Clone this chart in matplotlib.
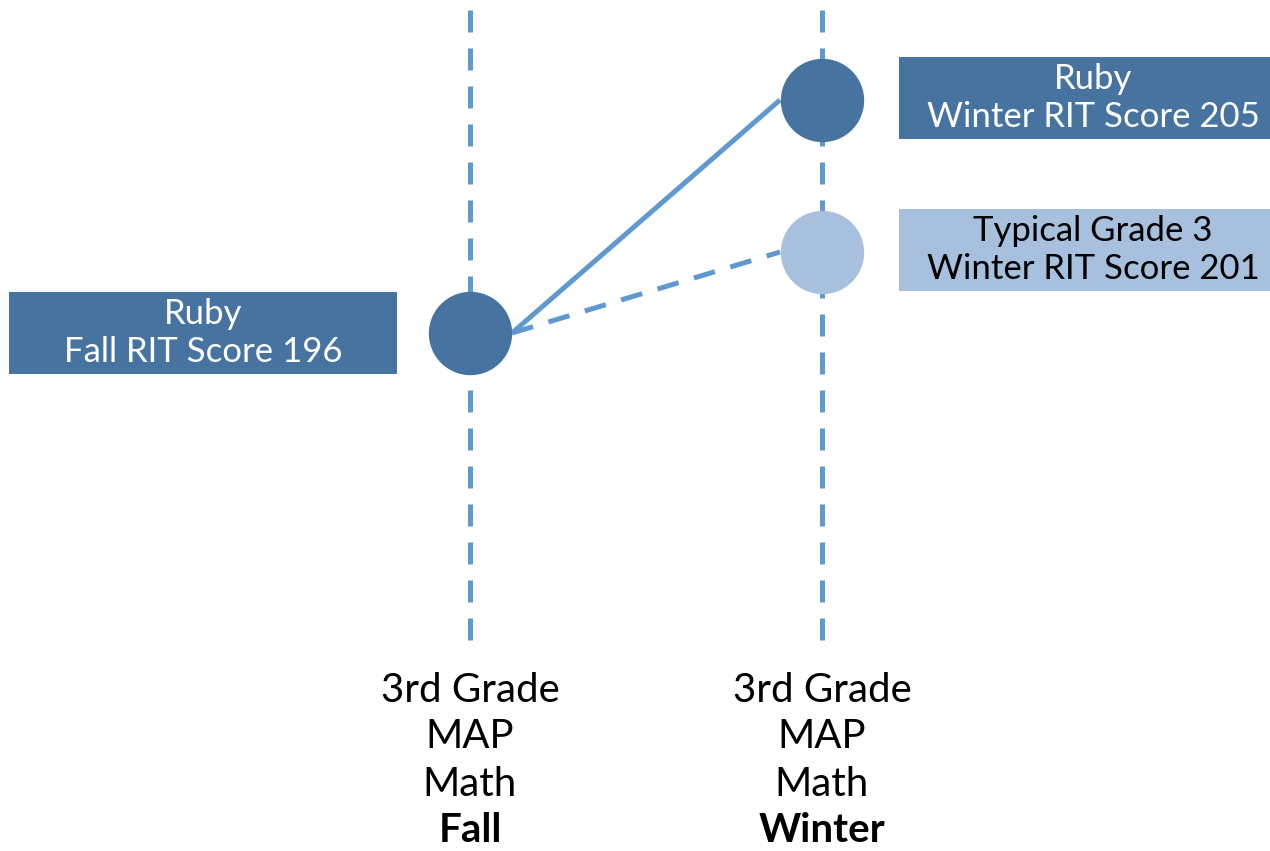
import numpy as np
import matplotlib.pyplot as plt
from matplotlib.patches import Rectangle
import matplotlib.transforms as mtransforms

#==============================
# Dados
#==============================
seasons = ['Fall', 'Winter']
ruby_scores = [196, 205]
typical_scores = [196, 201]
typical_label = 'Typical Grade 3'
test_lines = ['3rd Grade', 'MAP', 'Math']

dark = '#46739F'
light = '#A6C0DE'
line_col = '#5F99CF'

plt.rcParams['font.family'] = ['Lato', 'DejaVu Sans']

#==============================
# Escala vertical (o desenho original não é linear)
#==============================
anc_s = [196, 201, 205]
anc_p = [0, 81, 233]


def _pw(v, xs, ys):
    v = np.asarray(v, dtype=float)
    out = np.interp(v, xs, ys)
    lo = ys[0] + (v - xs[0]) * (ys[1] - ys[0]) / (xs[1] - xs[0])
    hi = ys[-1] + (v - xs[-1]) * (ys[-1] - ys[-2]) / (xs[-1] - xs[-2])
    return np.where(v < xs[0], lo, np.where(v > xs[-1], hi, out))


def fwd(v):
    return _pw(v, anc_s, anc_p)


def inv(p):
    return _pw(p, anc_p, anc_s)


fig = plt.figure(figsize=(12.7, 8.51), dpi=100)
ax = fig.add_axes([0, 0, 1, 1])
ax.set_yscale('function', functions=(fwd, inv))
ax.set_xlim(-470 / 352, 800 / 352)
ax.set_ylim(float(inv(-518)), float(inv(333)))
ax.axis('off')

xs = np.arange(len(seasons))
dash = (0, (4.4, 3.2))

# linhas verticais tracejadas
tr = mtransforms.blended_transform_factory(ax.transData, ax.transAxes)
for x in xs:
    ax.plot([x, x], [1 - 10 / 851, 1 - 650 / 851], transform=tr,
            color=line_col, lw=3.6, linestyle=dash, zorder=1)

# ligações
off = 42 / 352
ax.plot([xs[0] + off, xs[1] - off], ruby_scores, color=line_col, lw=3.6,
        solid_capstyle='butt', zorder=2)
ax.plot([xs[0] + off, xs[1] - off], typical_scores, color=line_col, lw=3.6,
        linestyle=dash, zorder=2)

# pontos
ax.plot(xs, ruby_scores, 'o', ms=60, color=dark, mec='none', zorder=3)
ax.plot(xs[1], typical_scores[1], 'o', ms=60, color=light, mec='none', zorder=3)

#==============================
# Caixas de texto
#==============================
boxes = [
    (9, 292, dark, 'white', f'Ruby\n{seasons[0]} RIT Score {ruby_scores[0]}'),
    (899, 57, dark, 'white', f'Ruby\n{seasons[1]} RIT Score {ruby_scores[1]}'),
    (899, 209, light, 'black',
     f'{typical_label}\n{seasons[1]} RIT Score {typical_scores[1]}'),
]
bw, bh = 388, 82
for bx, by, fc, tc, txt in boxes:
    ax.add_patch(Rectangle((bx / 1270, 1 - (by + bh) / 851), bw / 1270, bh / 851,
                           transform=ax.transAxes, facecolor=fc, edgecolor='none',
                           clip_on=False, zorder=4))
    ax.text((bx + bw / 2) / 1270, 1 - (by + bh / 2) / 851, txt,
            transform=ax.transAxes, ha='center', va='center', color=tc,
            fontsize=25, linespacing=1.22, zorder=5)

#==============================
# Rótulos de baixo
#==============================
rows = [690, 737, 784, 830]
for x, s in zip(xs, seasons):
    for i, t in enumerate(test_lines + [s]):
        ax.text(x, 1 - rows[i] / 851, t, transform=tr, ha='center', va='center',
                fontsize=29, color='black',
                fontweight='bold' if i == 3 else 'normal')

fig.savefig('out.png', dpi=100)
